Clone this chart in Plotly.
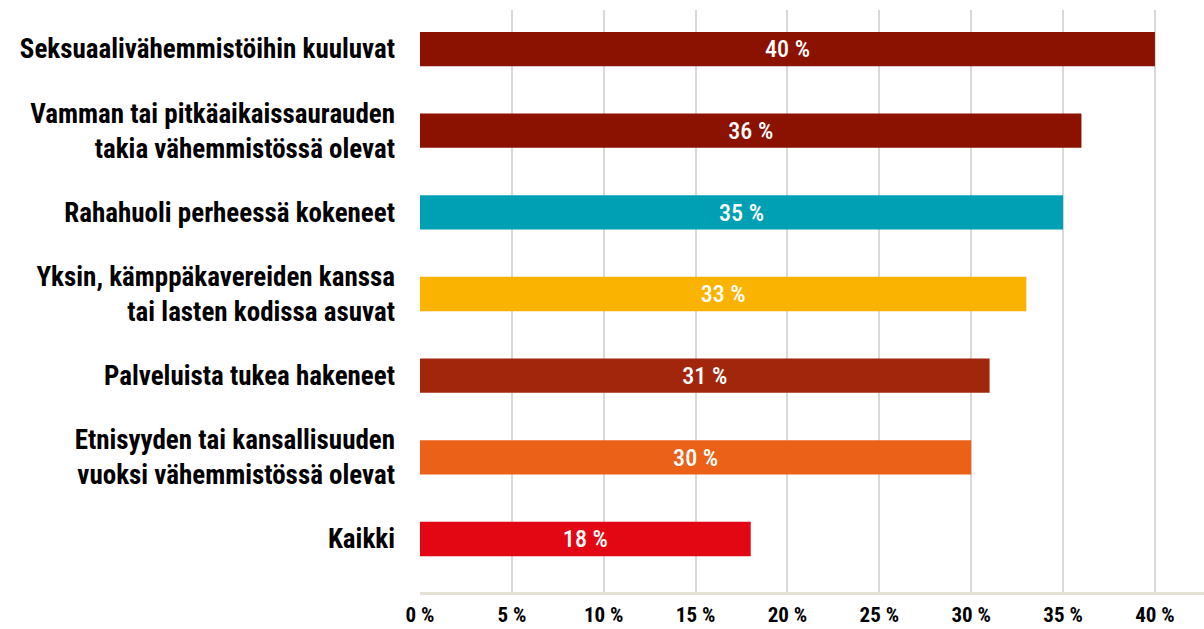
import plotly.graph_objects as go

# Data (top to bottom as shown); each label is a list of its lines
label_lines = [
    ["Seksuaalivähemmistöihin kuuluvat"],
    ["Vamman tai pitkäaikaissaurauden", "takia vähemmistössä olevat"],
    ["Rahahuoli perheessä kokeneet"],
    ["Yksin, kämppäkavereiden kanssa", "tai lasten kodissa asuvat"],
    ["Palveluista tukea hakeneet"],
    ["Etnisyyden tai kansallisuuden", "vuoksi vähemmistössä olevat"],
    ["Kaikki"],
]
values = [40, 36, 35, 33, 31, 30, 18]
colors = ["#8B1100", "#8B1100", "#00A0B4", "#F9B300", "#A2260C", "#EB6118", "#E30613"]
x_ticks = [0, 5, 10, 15, 20, 25, 30, 35, 40]

FONT = "Roboto, Open Sans, sans-serif"
COND = '<span style="font-stretch:condensed">{}</span>'

categories = [" ".join(l) for l in label_lines]
tick_texts = ["<br>".join(COND.format(s) for s in l) for l in label_lines]

# reverse so the first category appears on top
cats_r = categories[::-1]
ticks_r = tick_texts[::-1]
vals_r = values[::-1]
cols_r = colors[::-1]

fig = go.Figure(
    go.Bar(
        x=vals_r,
        y=cats_r,
        orientation="h",
        marker=dict(color=cols_r, line=dict(width=0)),
        width=0.42,
        text=[COND.format(f"{v} %") for v in vals_r],
        textposition="inside",
        insidetextanchor="middle",
        textangle=0,
        textfont=dict(family=FONT, size=29, weight=500, color="white"),
        hoverinfo="skip",
    )
)

fig.update_layout(
    width=1204,
    height=629,
    margin=dict(l=420, r=0, t=10, b=37),
    paper_bgcolor="white",
    plot_bgcolor="white",
    showlegend=False,
    font=dict(family=FONT, color="#000000"),
    xaxis=dict(
        range=[0, 42.67],
        tickmode="array",
        tickvals=x_ticks,
        ticktext=[COND.format(f"{t} %") for t in x_ticks],
        tickfont=dict(family=FONT, size=21, weight="bold", color="#000000"),
        showgrid=True,
        gridcolor="#D9D9D9",
        gridwidth=2,
        zeroline=False,
        showline=True,
        linecolor="#E4E0D6",
        linewidth=3,
        ticks="",
        ticklabelstandoff=2,
        automargin=False,
        fixedrange=True,
    ),
    yaxis=dict(
        type="category",
        categoryorder="array",
        categoryarray=cats_r,
        tickmode="array",
        tickvals=cats_r,
        ticktext=ticks_r,
        tickfont=dict(family=FONT, size=27, weight="bold", color="#000000"),
        ticklabelstandoff=24,
        range=[-0.649, 6.478],
        showgrid=False,
        zeroline=False,
        showline=False,
        ticks="",
        automargin=False,
        fixedrange=True,
    ),
)

fig.write_html(
    "out.html",
    config={"displayModeBar": False},
    post_script="document.body.style.margin='0';document.body.style.overflow='hidden';",
)
